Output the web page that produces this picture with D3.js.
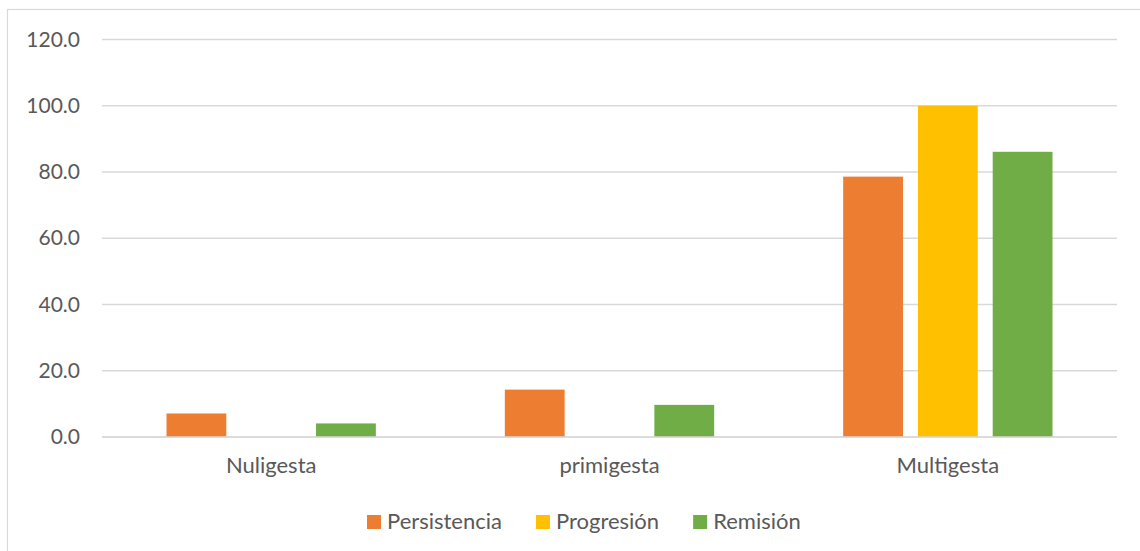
<!DOCTYPE html>
<html>
<head>
<meta charset="utf-8">
<script src="https://cdn.jsdelivr.net/npm/d3@7/dist/d3.min.js"></script>
<style>
  html, body { margin: 0; padding: 0; background: #fff; }
  svg { display: block; }
  text { font-family: Lato, "Open Sans", sans-serif; fill: #595959; }
</style>
</head>
<body>
<svg id="chart" width="1140" height="551"></svg>
<script>
// Grouped bar chart: three outcomes per gravidity group
const categories = ["Nuligesta", "primigesta", "Multigesta"];
const seriesNames = ["Persistencia", "Progresión", "Remisión"];
const persistencia = [7.1, 14.3, 78.6];
const progresion = [0, 0, 100.0];
const remision = [4.1, 9.7, 86.1];
const yTicks = [0, 20, 40, 60, 80, 100, 120];
const colors = ["#ED7D31", "#FFC000", "#70AD47"];

const seriesValues = [persistencia, progresion, remision];
const rows = categories.map((c, i) => ({
  category: c,
  values: seriesNames.map((s, j) => ({ series: s, value: seriesValues[j][i] }))
}));

const svg = d3.select("#chart");
const W = 1140, H = 551;
const plot = { left: 102, right: 1117, top: 39.5, bottom: 437 };

// outer chart border
svg.append("rect")
  .attr("x", 7.5).attr("y", 9.5)
  .attr("width", W + 20).attr("height", H + 20)
  .attr("fill", "#fff").attr("stroke", "#D9D9D9").attr("stroke-width", 1.2);

const y = d3.scaleLinear().domain([0, 120]).range([plot.bottom, plot.top]);
const x0 = d3.scaleBand().domain(categories).range([plot.left, plot.right]).padding(0);
const groupPad = 64.5;
const x1 = d3.scaleBand().domain(seriesNames)
  .range([groupPad, x0.bandwidth() - groupPad])
  .paddingInner(0.2).paddingOuter(0);

// gridlines
svg.append("g")
  .selectAll("line").data(yTicks).join("line")
  .attr("x1", plot.left).attr("x2", plot.right)
  .attr("y1", d => y(d)).attr("y2", d => y(d))
  .attr("stroke", "#D9D9D9").attr("stroke-width", 1.5);

// y axis labels
const yAxis = d3.axisLeft(y).tickValues(yTicks).tickFormat(d3.format(".1f")).tickSize(0).tickPadding(0);
const gy = svg.append("g").attr("transform", "translate(80,0)").call(yAxis);
gy.select(".domain").remove();
gy.selectAll("text").attr("font-size", 21).attr("fill", "#595959")
  .style("font-family", "Lato, 'Open Sans', sans-serif");

// bars
const groups = svg.append("g").selectAll("g").data(rows).join("g")
  .attr("transform", d => `translate(${x0(d.category)},0)`);
groups.selectAll("rect").data(d => d.values.filter(v => v.value > 0)).join("rect")
  .attr("x", d => x1(d.series))
  .attr("width", x1.bandwidth())
  .attr("y", d => y(d.value))
  .attr("height", d => y(0) - y(d.value))
  .attr("fill", (d) => colors[seriesNames.indexOf(d.series)]);

// baseline drawn over the bars
svg.append("line")
  .attr("x1", plot.left).attr("x2", plot.right)
  .attr("y1", y(0)).attr("y2", y(0))
  .attr("stroke", "#D9D9D9").attr("stroke-width", 1.5);

// category axis labels
const xAxis = d3.axisBottom(x0).tickSize(0).tickPadding(0);
const gx = svg.append("g").attr("transform", `translate(0,${y(0) + 20})`).call(xAxis);
gx.select(".domain").remove();
gx.selectAll("text").attr("font-size", 22).attr("fill", "#595959")
  .style("font-family", "Lato, 'Open Sans', sans-serif");

// legend
const legend = svg.append("g").attr("transform", "translate(367,0)");
let lx = 0;
seriesNames.forEach((s, i) => {
  const g = legend.append("g").attr("transform", `translate(${lx},0)`);
  g.append("rect").attr("x", 0).attr("y", 515).attr("width", 14).attr("height", 14)
    .attr("fill", colors[i]);
  const t = g.append("text").attr("x", 20).attr("y", 529)
    .attr("font-size", 22).text(s);
  lx += 20 + t.node().getComputedTextLength() + 34;
});
</script>
</body>
</html>
